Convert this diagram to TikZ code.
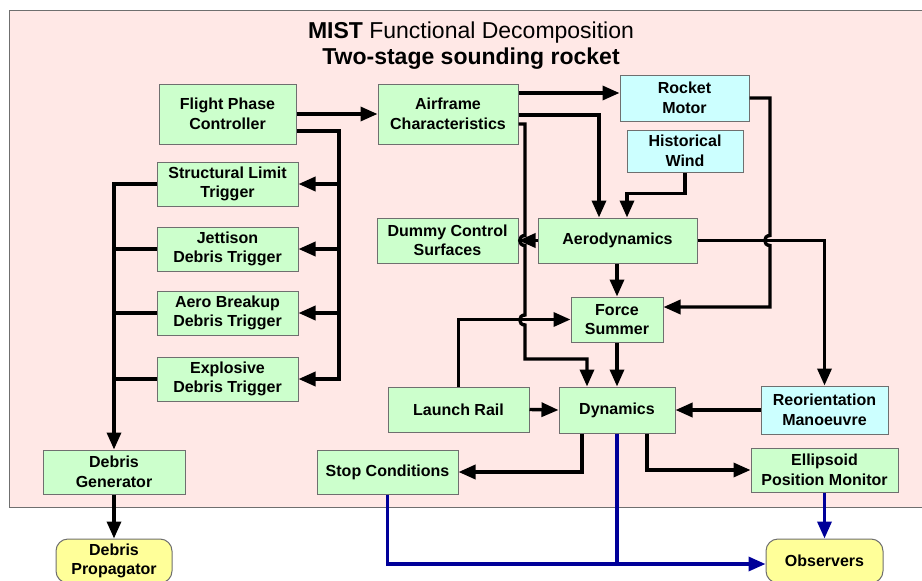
\documentclass[tikz,border=0pt]{standalone}
\usepackage{fontspec}
\setmainfont{Liberation Sans}
\usetikzlibrary{arrows.meta,calc}
\definecolor{bgpink}{HTML}{FFE8E6}
\definecolor{boxgreen}{HTML}{CCFFCC}
\definecolor{boxcyan}{HTML}{CCFFFF}
\definecolor{boxyellow}{HTML}{FFFF99}
\definecolor{boxgray}{HTML}{6F6F6F}
\definecolor{navyline}{HTML}{000099}
\begin{document}
\begin{tikzpicture}[x=1pt,y=-1pt,
  box/.style={draw=boxgray, line width=1pt, inner sep=0pt, align=center,
    font=\fontsize{16}{19.5}\selectfont\bfseries},
  gbox/.style={box, fill=boxgreen},
  cbox/.style={box, fill=boxcyan},
  ybox/.style={box, fill=boxyellow, rounded corners=12pt},
  conn/.style={line width=3.4pt, -{Triangle[length=17pt,width=14pt]}},
  plainline/.style={line width=3.4pt},
  bconn/.style={conn, draw=navyline},
  bplain/.style={plainline, draw=navyline},
]
\useasboundingbox (0,0) rectangle (922,581);
\clip (0,0) rectangle (922,581);
\fill[bgpink, draw=boxgray, line width=1pt] (9,10) rectangle (930,507);

\node[align=center, font=\fontsize{23}{26}\selectfont] (title) at (471,46)
  {\textbf{MIST} Functional Decomposition\\\textbf{Two-stage sounding rocket}};

% nodes
\node[gbox, minimum width=137pt, minimum height=60pt] (fpc) at (227.5,114) {Flight Phase\\Controller};
\node[gbox, minimum width=140pt, minimum height=60pt] (air) at (448,114) {Airframe\\Characteristics};
\node[cbox, minimum width=129pt, minimum height=46pt] (motor) at (684.5,98) {Rocket\\Motor};
\node[cbox, minimum width=116pt, minimum height=42pt] (wind) at (685,151) {Historical\\Wind};
\node[gbox, minimum width=141pt, minimum height=44pt] (slt) at (227.5,184) {Structural Limit\\Trigger};
\node[gbox, minimum width=141pt, minimum height=44pt] (jdt) at (227.5,249) {Jettison\\Debris Trigger};
\node[gbox, minimum width=141pt, minimum height=44pt] (abdt) at (227.5,313) {Aero Breakup\\Debris Trigger};
\node[gbox, minimum width=141pt, minimum height=44pt] (edt) at (227.5,379) {Explosive\\Debris Trigger};
\node[gbox, minimum width=141pt, minimum height=45pt] (dummy) at (447.5,240.5) {Dummy Control\\Surfaces};
\node[gbox, minimum width=159pt, minimum height=45pt] (aero) at (617.5,240.5) {Aerodynamics};
\node[gbox, minimum width=92pt, minimum height=45pt] (force) at (617,319.5) {Force\\Summer};
\node[gbox, minimum width=141pt, minimum height=45pt] (rail) at (458.5,409.5) {Launch Rail};
\node[gbox, minimum width=116pt, minimum height=46pt] (dyn) at (617,410) {Dynamics};
\node[cbox, minimum width=127pt, minimum height=48pt] (reor) at (824.5,410) {Reorientation\\Manoeuvre};
\node[gbox, minimum width=147pt, minimum height=44pt] (ellip) at (824.5,470) {Ellipsoid\\Position Monitor};
\node[gbox, minimum width=141pt, minimum height=44pt] (stop) at (387.5,472) {Stop Conditions};
\node[gbox, minimum width=142pt, minimum height=44pt] (dgen) at (114,472) {Debris\\Generator};
\node[ybox, minimum width=116pt, minimum height=44pt] (dprop) at (114,561) {Debris\\Propagator};
\node[ybox, minimum width=117pt, minimum height=44pt] (obs) at (824.5,561) {Observers};

\coordinate (fbus) at (339,0);
\coordinate (lbus) at (114,0);
\coordinate (bj) at (617,564);

% flight phase controller
\draw[conn] (fpc.east) -- (air.west);
\draw[conn] ([yshift=-17pt]fpc.east) -| (fbus |- edt.east) -- (edt.east);
\draw[conn] (fbus |- slt.east) -- (slt.east);
\draw[conn] (fbus |- jdt.east) -- (jdt.east);
\draw[conn] (fbus |- abdt.east) -- (abdt.east);

% debris triggers to generator
\draw[conn] (slt.west) -| (dgen.north);
\draw[plainline] (jdt.west) -- (lbus |- jdt.west);
\draw[plainline] (abdt.west) -- (lbus |- abdt.west);
\draw[plainline] (edt.west) -- (lbus |- edt.west);
\draw[conn] (dgen.south) -- (dprop.north);

% airframe
\draw[conn] ([yshift=21pt]air.east) coordinate (a1) -- (a1 -| motor.west);
\draw[conn] ([yshift=-1pt]air.east) -| ([xshift=-18.5pt]aero.north);
\draw[conn] ([yshift=-10pt]air.east) -- (525,124) -- (525,235.5)
  .. controls (518,235.5) and (518,245.5) .. (525,245.5) -- (525,315)
  .. controls (518,315) and (518,325) .. (525,325) -- (525,359)
  -| ([xshift=-30pt]dyn.north);

% wind, motor
\draw[conn] (wind.south) -- ++(0,21) -| ([xshift=9.5pt]aero.north);
\draw[conn] (motor.east) -- (770,98) -- (770,235.5)
  .. controls (763,235.5) and (763,245.5) .. (770,245.5) -- (770,307)
  -- ([yshift=12.5pt]force.east);

% aerodynamics
\draw[conn] (aero.west) -- (dummy.east);
\draw[conn] (aero.east) -| (reor.north);
\draw[conn] (force.north |- aero.south) -- (force.north);
\draw[conn] (force.south) -- (dyn.north);

% launch rail
\draw[conn] (rail.north) |- (force.west);
\draw[conn] (rail.east) -- (dyn.west);
\draw[conn] (reor.west) -- (dyn.east);

% dynamics outputs
\draw[conn] ([xshift=-35pt]dyn.south) |- (stop.east);
\draw[conn] ([xshift=30pt]dyn.south) |- (ellip.west);

% observers (blue)
\draw[bconn] (stop.south) |- ([yshift=-3pt]obs.west);
\draw[bplain] (dyn.south) -- (bj);
\draw[bconn] (ellip.south) -- (obs.north);
\end{tikzpicture}
\end{document}
